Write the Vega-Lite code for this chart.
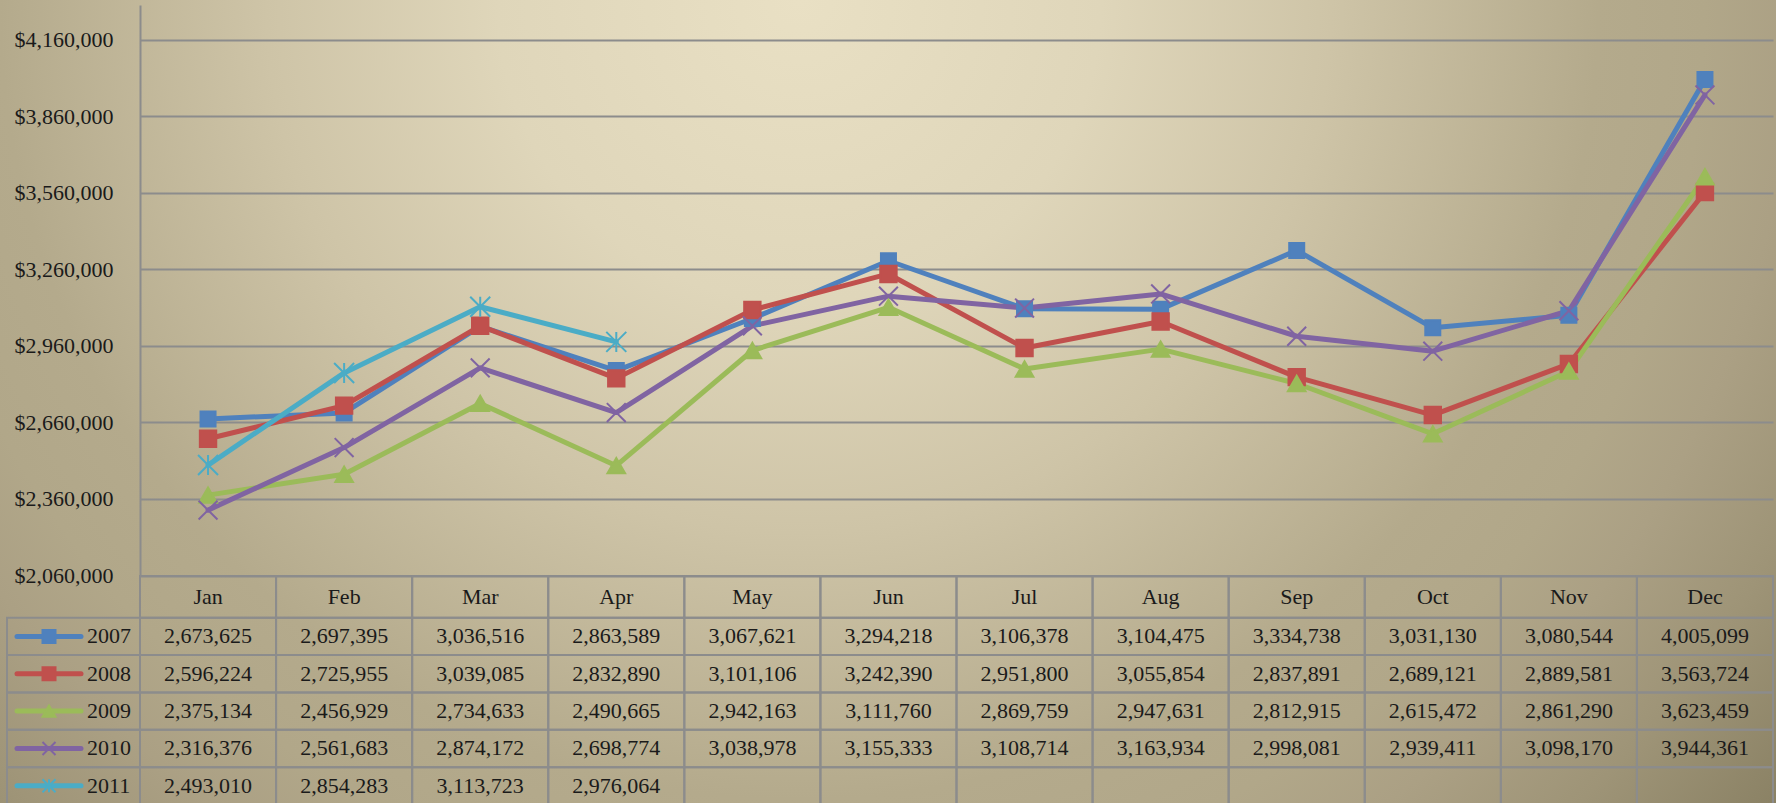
{
  "$schema": "https://vega.github.io/schema/vega-lite/v6.json",
  "width": 1776,
  "height": 803,
  "autosize": {"type": "none"},
  "padding": 0,
  "background": "#b0a688",
  "view": {
    "stroke": null,
    "fill": {
      "gradient": "radial",
      "x1": 0.45, "y1": 0.274, "r1": 0,
      "x2": 0.45, "y2": 0.274, "r2": 1,
      "stops": [
        {"offset": 0, "color": "#e9e0c4"},
        {"offset": 0.17, "color": "#dfd6ba"},
        {"offset": 0.3, "color": "#cec4a7"},
        {"offset": 0.45, "color": "#b4aa8c"},
        {"offset": 0.51, "color": "#b1a789"},
        {"offset": 0.56, "color": "#aba084"},
        {"offset": 0.63, "color": "#9e9477"},
        {"offset": 0.71, "color": "#8b8265"},
        {"offset": 1, "color": "#7f7659"}
      ]
    }
  },
  "config": {"view": {"stroke": null}, "legend": {"disable": true}, "font": "Liberation Serif"},
  "datasets": {
    "sales": [
      {"year": "2007", "month": "Jan", "value": 2673625},
      {"year": "2007", "month": "Feb", "value": 2697395},
      {"year": "2007", "month": "Mar", "value": 3036516},
      {"year": "2007", "month": "Apr", "value": 2863589},
      {"year": "2007", "month": "May", "value": 3067621},
      {"year": "2007", "month": "Jun", "value": 3294218},
      {"year": "2007", "month": "Jul", "value": 3106378},
      {"year": "2007", "month": "Aug", "value": 3104475},
      {"year": "2007", "month": "Sep", "value": 3334738},
      {"year": "2007", "month": "Oct", "value": 3031130},
      {"year": "2007", "month": "Nov", "value": 3080544},
      {"year": "2007", "month": "Dec", "value": 4005099},
      {"year": "2008", "month": "Jan", "value": 2596224},
      {"year": "2008", "month": "Feb", "value": 2725955},
      {"year": "2008", "month": "Mar", "value": 3039085},
      {"year": "2008", "month": "Apr", "value": 2832890},
      {"year": "2008", "month": "May", "value": 3101106},
      {"year": "2008", "month": "Jun", "value": 3242390},
      {"year": "2008", "month": "Jul", "value": 2951800},
      {"year": "2008", "month": "Aug", "value": 3055854},
      {"year": "2008", "month": "Sep", "value": 2837891},
      {"year": "2008", "month": "Oct", "value": 2689121},
      {"year": "2008", "month": "Nov", "value": 2889581},
      {"year": "2008", "month": "Dec", "value": 3563724},
      {"year": "2009", "month": "Jan", "value": 2375134},
      {"year": "2009", "month": "Feb", "value": 2456929},
      {"year": "2009", "month": "Mar", "value": 2734633},
      {"year": "2009", "month": "Apr", "value": 2490665},
      {"year": "2009", "month": "May", "value": 2942163},
      {"year": "2009", "month": "Jun", "value": 3111760},
      {"year": "2009", "month": "Jul", "value": 2869759},
      {"year": "2009", "month": "Aug", "value": 2947631},
      {"year": "2009", "month": "Sep", "value": 2812915},
      {"year": "2009", "month": "Oct", "value": 2615472},
      {"year": "2009", "month": "Nov", "value": 2861290},
      {"year": "2009", "month": "Dec", "value": 3623459},
      {"year": "2010", "month": "Jan", "value": 2316376},
      {"year": "2010", "month": "Feb", "value": 2561683},
      {"year": "2010", "month": "Mar", "value": 2874172},
      {"year": "2010", "month": "Apr", "value": 2698774},
      {"year": "2010", "month": "May", "value": 3038978},
      {"year": "2010", "month": "Jun", "value": 3155333},
      {"year": "2010", "month": "Jul", "value": 3108714},
      {"year": "2010", "month": "Aug", "value": 3163934},
      {"year": "2010", "month": "Sep", "value": 2998081},
      {"year": "2010", "month": "Oct", "value": 2939411},
      {"year": "2010", "month": "Nov", "value": 3098170},
      {"year": "2010", "month": "Dec", "value": 3944361},
      {"year": "2011", "month": "Jan", "value": 2493010},
      {"year": "2011", "month": "Feb", "value": 2854283},
      {"year": "2011", "month": "Mar", "value": 3113723},
      {"year": "2011", "month": "Apr", "value": 2976064},
      {"year": "2011", "month": "May", "value": null},
      {"year": "2011", "month": "Jun", "value": null},
      {"year": "2011", "month": "Jul", "value": null},
      {"year": "2011", "month": "Aug", "value": null},
      {"year": "2011", "month": "Sep", "value": null},
      {"year": "2011", "month": "Oct", "value": null},
      {"year": "2011", "month": "Nov", "value": null},
      {"year": "2011", "month": "Dec", "value": null}
    ]
  },
  "data": {"name": "sales"},
  "resolve": {"scale": {"x": "independent", "y": "independent", "color": "independent", "stroke": "independent", "shape": "independent", "size": "independent"}},
  "layer": [
    {
      "transform": [{"filter": "isValid(datum.value)"}],
      "encoding": {
        "x": {"field": "month", "type": "nominal", "scale": {"type": "band", "domain": ["Jan","Feb","Mar","Apr","May","Jun","Jul","Aug","Sep","Oct","Nov","Dec"], "range": [140, 1773], "paddingInner": 0, "paddingOuter": 0}, "axis": null},
        "y": {
          "field": "value", "type": "quantitative",
          "scale": {"domain": [2060000, 4297000], "range": [575.5, 5], "nice": false, "zero": false},
          "axis": {
            "orient": "left", "offset": -140, "title": null,
            "values": [2060000, 2360000, 2660000, 2960000, 3260000, 3560000, 3860000, 4160000],
            "format": "$,d",
            "grid": true, "gridColor": "#8c8c8c", "gridWidth": 2, "gridOpacity": 1,
            "domain": true, "domainColor": "#8c8c8c", "domainWidth": 2,
            "ticks": false, "tickSize": 0, "labelPadding": 27,
            "labelFont": "Liberation Serif", "labelFontSize": 22, "labelColor": "#1a1a1a"
          }
        }
      },
      "layer": [
        {
          "mark": {"type": "line", "strokeWidth": 5, "strokeJoin": "round", "strokeCap": "round"},
          "encoding": {
            "color": {"field": "year", "type": "nominal", "scale": {"domain": ["2007","2008","2009","2010","2011"], "range": ["#4f81bd","#c0504d","#9bbb59","#8064a2","#4bacc6"]}}
          }
        },
        {
          "mark": {"type": "point", "filled": true, "opacity": 1, "strokeWidth": 2},
          "encoding": {
            "color": {"field": "year", "type": "nominal", "scale": {"domain": ["2007","2008","2009","2010","2011"], "range": ["#4f81bd","#c0504d","#9bbb59","#8064a2","#4bacc6"]}},
            "stroke": {"field": "year", "type": "nominal", "scale": {"domain": ["2007","2008","2009","2010","2011"], "range": ["#4f81bd","#c0504d","#9bbb59","#8064a2","#4bacc6"]}},
            "shape": {"field": "year", "type": "nominal", "scale": {"domain": ["2007","2008","2009","2010","2011"], "range": ["square","square","triangle-up","M-1,-1L1,1M-1,1L1,-1","M-1,-1L1,1M-1,1L1,-1M0,-1L0,1"]}},
            "size": {"field": "year", "type": "ordinal", "scale": {"domain": ["2007","2008","2009","2010","2011"], "range": [225, 400, 420, 484, 484]}}
          }
        }
      ]
    },
    {
      "transform": [{"filter": "datum.year === '2007'"}],
      "encoding": {
        "x": {"field": "month", "type": "nominal", "scale": {"type": "band", "domain": ["Jan","Feb","Mar","Apr","May","Jun","Jul","Aug","Sep","Oct","Nov","Dec"], "range": [140, 1773], "paddingInner": 0, "paddingOuter": 0}, "axis": null},
        "y": {"datum": "header", "type": "nominal", "scale": {"type": "band", "domain": ["header"], "range": [576, 617.7], "paddingInner": 0, "paddingOuter": 0}, "axis": null}
      },
      "layer": [
        {"mark": {"type": "rect", "fill": "#000000", "fillOpacity": 0, "stroke": "#8c8c8c", "strokeWidth": 2}},
        {"mark": {"type": "text", "font": "Liberation Serif", "fontSize": 22, "color": "#1a1a1a", "align": "center", "baseline": "middle"}, "encoding": {"text": {"field": "month", "type": "nominal"}}}
      ]
    },
    {
      "encoding": {
        "x": {"field": "month", "type": "nominal", "scale": {"type": "band", "domain": ["Jan","Feb","Mar","Apr","May","Jun","Jul","Aug","Sep","Oct","Nov","Dec"], "range": [140, 1773], "paddingInner": 0, "paddingOuter": 0}, "axis": null},
        "y": {"field": "year", "type": "nominal", "scale": {"type": "band", "domain": ["2007","2008","2009","2010","2011"], "range": [617.7, 804.5], "paddingInner": 0, "paddingOuter": 0}, "axis": null}
      },
      "layer": [
        {"mark": {"type": "rect", "fill": "#000000", "fillOpacity": 0, "stroke": "#8c8c8c", "strokeWidth": 2}},
        {
          "transform": [{"filter": "isValid(datum.value)"}],
          "mark": {"type": "text", "font": "Liberation Serif", "fontSize": 22, "color": "#1a1a1a", "align": "center", "baseline": "middle"},
          "encoding": {"text": {"field": "value", "type": "quantitative", "format": ",d"}}
        }
      ]
    },
    {
      "transform": [{"filter": "datum.month === 'Jan'"}],
      "encoding": {
        "y": {"field": "year", "type": "nominal", "scale": {"type": "band", "domain": ["2007","2008","2009","2010","2011"], "range": [617.7, 804.5], "paddingInner": 0, "paddingOuter": 0}, "axis": null}
      },
      "layer": [
        {
          "mark": {"type": "rect", "fill": "#000000", "fillOpacity": 0, "stroke": "#8c8c8c", "strokeWidth": 2},
          "encoding": {
            "x": {"datum": 0, "type": "quantitative", "scale": {"domain": [0, 133], "range": [7, 140], "nice": false, "zero": false}, "axis": null},
            "x2": {"datum": 133}
          }
        },
        {
          "mark": {"type": "rule", "strokeWidth": 5, "strokeCap": "round"},
          "encoding": {
            "x": {"datum": 10, "type": "quantitative", "scale": {"domain": [0, 133], "range": [7, 140], "nice": false, "zero": false}, "axis": null},
            "x2": {"datum": 74},
            "color": {"field": "year", "type": "nominal", "scale": {"domain": ["2007","2008","2009","2010","2011"], "range": ["#4f81bd","#c0504d","#9bbb59","#8064a2","#4bacc6"]}}
          }
        },
        {
          "mark": {"type": "point", "filled": true, "opacity": 1, "strokeWidth": 2},
          "encoding": {
            "x": {"datum": 42, "type": "quantitative", "scale": {"domain": [0, 133], "range": [7, 140], "nice": false, "zero": false}, "axis": null},
            "color": {"field": "year", "type": "nominal", "scale": {"domain": ["2007","2008","2009","2010","2011"], "range": ["#4f81bd","#c0504d","#9bbb59","#8064a2","#4bacc6"]}},
            "stroke": {"field": "year", "type": "nominal", "scale": {"domain": ["2007","2008","2009","2010","2011"], "range": ["#4f81bd","#c0504d","#9bbb59","#8064a2","#4bacc6"]}},
            "shape": {"field": "year", "type": "nominal", "scale": {"domain": ["2007","2008","2009","2010","2011"], "range": ["square","square","triangle-up","M-1,-1L1,1M-1,1L1,-1","M-1,-1L1,1M-1,1L1,-1M0,-1L0,1"]}},
            "size": {"field": "year", "type": "ordinal", "scale": {"domain": ["2007","2008","2009","2010","2011"], "range": [169, 169, 200, 225, 225]}}
          }
        },
        {
          "mark": {"type": "text", "font": "Liberation Serif", "fontSize": 22, "color": "#1a1a1a", "align": "left", "baseline": "middle"},
          "encoding": {
            "x": {"datum": 80, "type": "quantitative", "scale": {"domain": [0, 133], "range": [7, 140], "nice": false, "zero": false}, "axis": null},
            "text": {"field": "year", "type": "nominal"}
          }
        }
      ]
    }
  ]
}
